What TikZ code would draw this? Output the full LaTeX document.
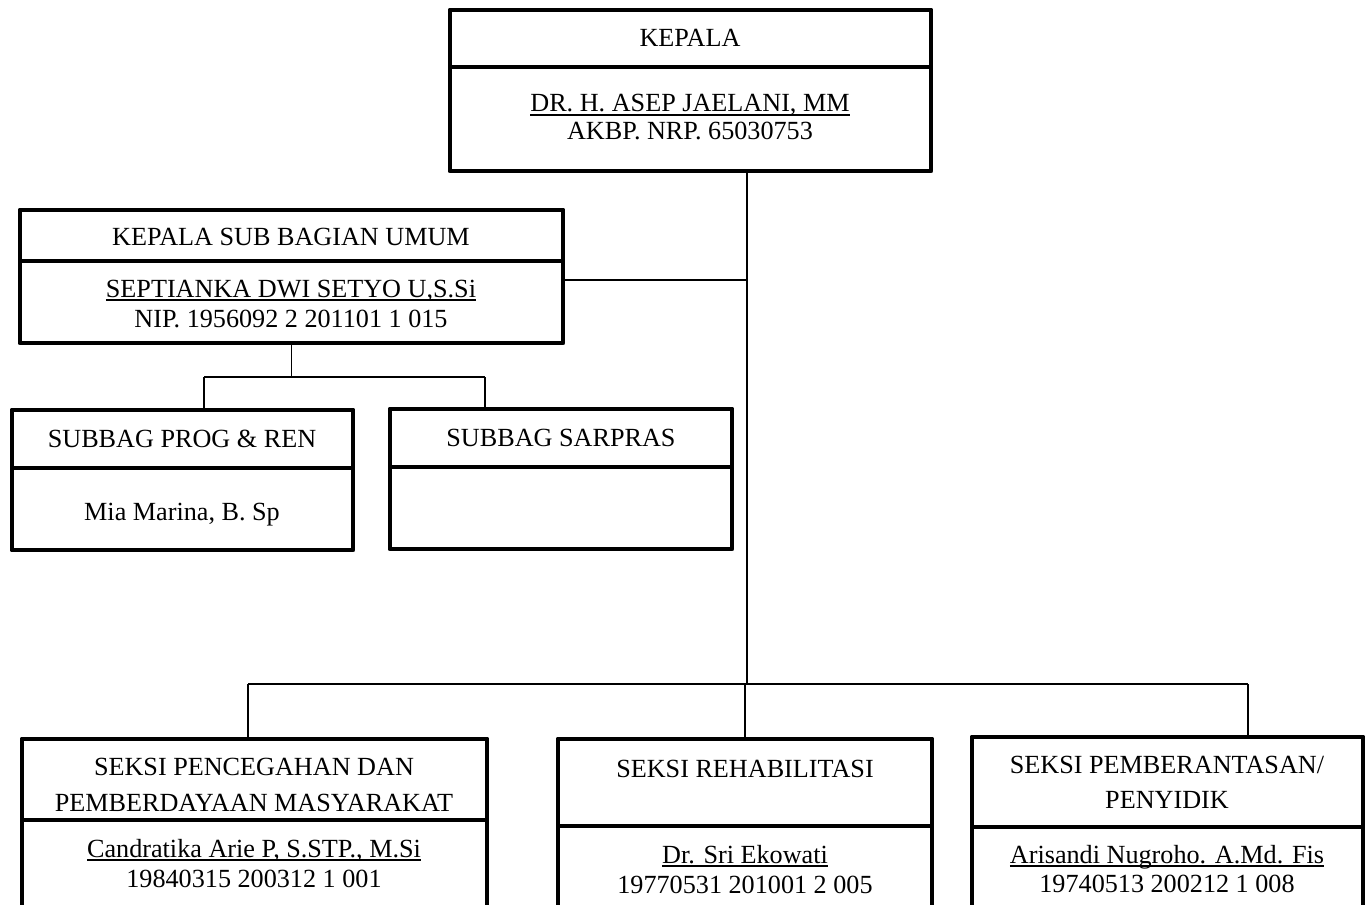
\documentclass[tikz,border=0pt]{standalone}
\usepackage{fontspec}
\setmainfont{Liberation Serif}
\usetikzlibrary{positioning,fit,calc}

% underline sitting just below the baseline, same depth for every name
\newcommand\nameline[1]{\setbox0\hbox{#1}\rlap{\rule[-2pt]{\wd0}{0.8pt}}\box0}

\begin{document}
\begin{tikzpicture}[
  x=0.02cm, y=-0.02cm,
  font=\fontsize{14.9}{17}\selectfont,
  every node/.style={align=center},
  headcell/.style={draw=black, line width=2.8pt, line join=round, inner sep=0pt},
  namecell/.style={draw=black, line width=2.8pt, line join=round, inner sep=0pt},
  txt/.style={anchor=base, inner sep=0pt},
  link/.style={draw=black, line width=1.1pt},
]
\useasboundingbox (0,0) rectangle (1368,905);

%% --- Kepala ---
\node[headcell, fit={(450,10) (931,67)}]  (kepalaHead) {};
\node[namecell, fit={(450,67) (931,171)}] (kepalaBody) {};
\node[txt] (kepalaTitle) at (690,47)  {KEPALA};
\node[txt] (kepalaName)  at (690,112) {\nameline{DR. H. ASEP JAELANI, MM}};
\node[txt] (kepalaId)    at (690,140) {AKBP. NRP. 65030753};

%% --- Sub bagian umum and its two subbags ---
\node[headcell, fit={(20,210) (563,261)}] (ksbuHead) {};
\node[namecell, fit={(20,261) (563,343)}] (ksbuBody) {};
\node[txt] (ksbuTitle) at (291,246) {KEPALA SUB BAGIAN UMUM};
\node[txt] (ksbuName)  at (291,297) {\nameline{SEPTIANKA DWI SETYO U,S.Si}};
\node[txt] (ksbuId)    at (291,327) {NIP. 1956092 2 201101 1 015};

\node[headcell, fit={(12,410) (353,468)}] (progHead) {};
\node[namecell, fit={(12,468) (353,550)}] (progBody) {};
\node[txt] (progTitle) at (182,447) {SUBBAG PROG \& REN};
\node[txt] (progName)  at (182,520) {Mia Marina, B. Sp};

\node[headcell, fit={(390,409) (732,467)}] (sarprasHead) {};
\node[namecell, fit={(390,467) (732,549)}] (sarprasBody) {};
\node[txt] (sarprasTitle) at (561,446) {SUBBAG SARPRAS};

%% --- Seksi row ---
\node[headcell, fit={(22,739) (487,820)}] (cegahHead) {};
\node[namecell, fit={(22,820) (487,912)}] (cegahBody) {};
\node[txt] (cegahTitleA) at (254,775) {SEKSI PENCEGAHAN DAN};
\node[txt] (cegahTitleB) at (254,811) {PEMBERDAYAAN MASYARAKAT};
\node[txt] (cegahName)   at (254,857) {\nameline{Candratika Arie P, S.STP., M.Si}};
\node[txt] (cegahId)     at (254,887) {19840315 200312 1 001};

\node[headcell, fit={(558,739) (932,826)}] (rehabHead) {};
\node[namecell, fit={(558,826) (932,912)}] (rehabBody) {};
\node[txt] (rehabTitle) at (745,777) {SEKSI REHABILITASI};
\node[txt] (rehabName)  at (745,863) {\nameline{Dr. Sri Ekowati}};
\node[txt] (rehabId)    at (745,893) {19770531 201001 2 005};

\node[headcell, fit={(972,737) (1363,827)}] (brantasHead) {};
\node[namecell, fit={(972,827) (1363,912)}] (brantasBody) {};
\node[txt] (brantasTitleA) at (1167,773) {SEKSI PEMBERANTASAN/};
\node[txt] (brantasTitleB) at (1167,808) {PENYIDIK};
\node[txt] (brantasName)   at (1167,863) {\nameline{Arisandi Nugroho. A.Md. Fis}};
\node[txt] (brantasId)     at (1167,892) {19740513 200212 1 008};

%% --- Connectors ---
\coordinate (hub)   at (747,684);
\coordinate (tap)   at (747,280);
\coordinate (dropL) at (248,684);
\coordinate (dropM) at (745,684);
\coordinate (dropR) at (1248,684);
\coordinate (subL)  at (204,377);
\coordinate (subR)  at (485,377);

\draw[link] (kepalaBody.south -| hub) -- (hub);
\draw[link] (ksbuBody.east |- tap) -- (tap);
\draw[link] (dropL) -- (dropR);
\draw[link] (dropL) -- (dropL |- cegahHead.north);
\draw[link] (dropM) -- (dropM |- rehabHead.north);
\draw[link] (dropR) -- (dropR |- brantasHead.north);

\draw[link] (ksbuBody.south) -- (ksbuBody.south |- subL);
\draw[link] (subL) -- (subR);
\draw[link] (subL) -- (subL |- progHead.north);
\draw[link] (subR) -- (subR |- sarprasHead.north);

\end{tikzpicture}
\end{document}
